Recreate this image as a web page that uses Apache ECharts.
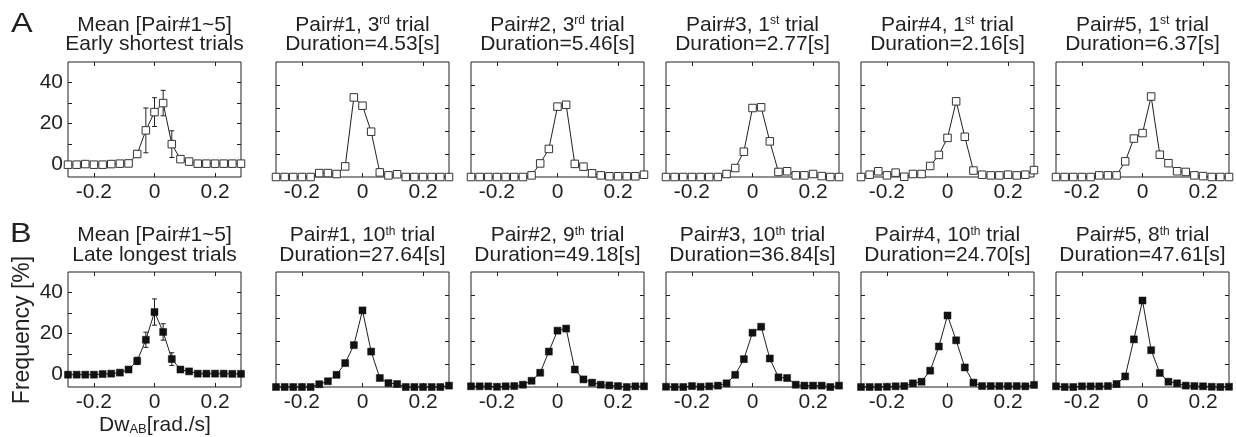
<!DOCTYPE html>
<html><head><meta charset="utf-8">
<script src="https://cdn.jsdelivr.net/npm/echarts@6/dist/echarts.min.js"></script>
<style>html,body{margin:0;padding:0;background:#fff}#c{width:1236px;height:437px}</style>
</head><body><div id="c"></div>
<script>
// ---- data ----
const xBins = [-0.285,-0.2565,-0.228,-0.1995,-0.171,-0.1425,-0.114,-0.0855,-0.057,-0.0285,0,0.0285,0.057,0.0855,0.114,0.1425,0.171,0.1995,0.228,0.2565,0.285];
const xTickValues = [-0.2, 0, 0.2];
const meanYLabels = [0, 20, 40];

const titlesEarly = [
  'Mean [Pair#1~5]\nEarly shortest trials',
  'Pair#1, 3{s|rd} trial\nDuration=4.53[s]',
  'Pair#2, 3{s|rd} trial\nDuration=5.46[s]',
  'Pair#3, 1{s|st} trial\nDuration=2.77[s]',
  'Pair#4, 1{s|st} trial\nDuration=2.16[s]',
  'Pair#5, 1{s|st} trial\nDuration=6.37[s]'
];
const titlesLate = [
  'Mean [Pair#1~5]\nLate longest trials',
  'Pair#1, 10{s|th} trial\nDuration=27.64[s]',
  'Pair#2, 9{s|th} trial\nDuration=49.18[s]',
  'Pair#3, 10{s|th} trial\nDuration=36.84[s]',
  'Pair#4, 10{s|th} trial\nDuration=24.70[s]',
  'Pair#5, 8{s|th} trial\nDuration=47.61[s]'
];

// Early shortest trials (open squares)
const meanEarly   = [0,0,0.3,0,0,0.3,0.5,0.6,5.2,16.7,25.6,30.0,10.0,2.7,1.5,0.5,0.5,0.5,0.5,0.5,0.5];
const meanEarlyErr= [0,0,0,0,0,0,0,0.3,1.5,10.9,7.0,6.2,6.5,1.0,0.5,0,0,0,0,0,0];
const pair1Early  = [0,0,0,0,0,1.7,1.7,1.3,4.6,34.6,31.0,19.7,2.0,0.7,1.2,0,0,0,0,0,0];
const pair2Early  = [0,0,0,0,0,0,0,0.7,5.9,12.2,30.6,31.4,5.7,4.5,1.6,0.7,0.3,0.3,0.3,0.3,1.0];
const pair3Early  = [0,0,0,0,0,0,0,1.3,3.9,11.0,30.0,30.3,15.5,2.2,2.5,0.7,0.7,1.3,0.4,0,0];
const pair4Early  = [0,1.0,2.5,0.7,1.9,0.1,1.3,1.3,4.8,9.6,17.0,32.9,17.5,2.8,1.0,0.7,0.7,1.0,0.7,1.0,3.0];
const pair5Early  = [0,0,0,0,0,0.7,0.7,0.7,6.8,16.7,19.1,35.0,9.7,6.0,2.5,2.2,0.7,0.4,0,0,0];

// Late longest trials (filled squares)
const meanLate    = [0,0,0,0,0.3,0.5,1.0,2.5,6.7,17.0,30.5,20.8,7.6,2.5,1.6,0.5,0.5,0.5,0.5,0.4,0.4];
const meanLateErr = [0,0,0,0,0,0,0,0.6,1.8,3.7,6.4,4.0,3.1,0.5,0.3,0,0,0,0,0,0];
const pair1Late   = [0,0,0,0,0,1.2,2.5,5.3,10.4,18.2,33.3,15.4,3.9,1.7,1.3,0,0,0,0,0,0.6];
const pair2Late   = [0.3,0.3,0.3,0.1,0.3,0.4,1.0,2.7,6.2,15.4,24.5,25.4,7.6,3.3,1.9,1.0,0.7,0.4,0,0.3,0.3];
const pair3Late   = [0.1,0,0,0.4,0.1,0.3,0.6,1.6,5.3,12.1,23.6,26.2,12.4,4.2,3.9,1.0,0.6,0.6,0.6,0,0.6];
const pair4Late   = [0,0,0,0.1,0.3,0.4,1.6,2.3,7.1,17.6,31.1,20.3,8.5,1.9,0.4,0.4,0.4,0.4,0.4,0.3,0.9];
const pair5Late   = [0.3,0,0,0.3,0.3,0.3,0.4,1.3,4.6,20.7,37.6,16.0,6.1,2.3,1.6,0.6,0.4,0.3,0.1,0,0.1];

// ---- layout / style ----
const FONT = '"Liberation Sans", Arial, Helvetica, sans-serif';
const INK = '#231f20';
const colLeft = [68, 276, 471, 666, 861, 1056];
const W = 173, H = 115;
const rowTop = [62, 272];
const titleTop = [15, 225.5];

const panelVals = [meanEarly, pair1Early, pair2Early, pair3Early, pair4Early, pair5Early,
                   meanLate, pair1Late, pair2Late, pair3Late, pair4Late, pair5Late];
const panelTitles = titlesEarly.concat(titlesLate);
const errs = {0: meanEarlyErr, 6: meanLateErr};

function fmtX(v){ return v === 0 ? '0' : (v < 0 ? '-' : '') + Math.abs(v).toFixed(1); }

function errRender(params, api){
  const x = api.value(0), y = api.value(1), e = api.value(2);
  if (!e) return;
  const t = api.coord([x, y + e]);
  const b = api.coord([x, y - e]);
  const hw = 2.5;
  const st = {stroke: INK, lineWidth: 1};
  return {type:'group', children:[
    {type:'line', shape:{x1:t[0], y1:t[1], x2:b[0], y2:b[1]}, style:st},
    {type:'line', shape:{x1:t[0]-hw, y1:t[1], x2:t[0]+hw, y2:t[1]}, style:st},
    {type:'line', shape:{x1:b[0]-hw, y1:b[1], x2:b[0]+hw, y2:b[1]}, style:st}
  ]};
}

const grids = [], xAxes = [], yAxes = [], series = [], titles = [];
for (let i = 0; i < 12; i++){
  const row = Math.floor(i/6), col = i % 6, isMean = col === 0;
  grids.push({left: colLeft[col], top: rowTop[row], width: W, height: H,
    show: true, borderColor: INK, borderWidth: 1, backgroundColor: 'transparent'});
  const tickStyle = {show:true, inside:true, length:4, lineStyle:{color:INK, width:1}};
  const xb = {type:'value', gridIndex:i, min:-0.285, max:0.285,
    axisLine:{show:false, onZero:false}, splitLine:{show:false}};
  xAxes.push(Object.assign({}, xb, {position:'bottom',
    axisTick: Object.assign({customValues: xTickValues}, tickStyle),
    axisLabel:{show:true, customValues: xTickValues, formatter: fmtX,
      fontSize:21, fontFamily:FONT, color:INK, margin:5}}));
  xAxes.push(Object.assign({}, xb, {position:'top',
    axisTick: Object.assign({customValues: xTickValues}, tickStyle),
    axisLabel:{show:false}}));
  const yTicks = isMean ? [0,10,20,30,40] : [10,20,30,40];
  const yb = {type:'value', gridIndex:i, min: isMean ? -6 : 0, max:50,
    axisLine:{show:false, onZero:false}, splitLine:{show:false}};
  yAxes.push(Object.assign({}, yb, {position:'left',
    axisTick: Object.assign({customValues: yTicks}, tickStyle),
    axisLabel: isMean ? {show:true, customValues: meanYLabels, fontSize:21,
      fontFamily:FONT, color:INK, margin:5} : {show:false}}));
  yAxes.push(Object.assign({}, yb, {position:'right',
    axisTick: Object.assign({customValues: yTicks}, tickStyle),
    axisLabel:{show:false}}));

  const vals = panelVals[i];
  if (errs[i]){
    series.push({type:'custom', xAxisIndex:2*i, yAxisIndex:2*i, z:1, clip:false,
      renderItem: errRender, silent:true,
      data: xBins.map((x,k)=>[x, vals[k], errs[i][k]])});
  }
  series.push({type:'line', xAxisIndex:2*i, yAxisIndex:2*i, z:3, clip:false,
    symbol:'rect', symbolSize: row === 0 ? 7.5 : 7, showSymbol:true, silent:true,
    lineStyle:{color:INK, width:1},
    itemStyle: row === 0 ? {color:'#fff', borderColor:'#333', borderWidth:1}
                         : {color:'#111', borderColor:'#111', borderWidth:0.5},
    data: xBins.map((x,k)=>[x, vals[k]])});

  titles.push({text: panelTitles[i], left: colLeft[col] + W/2, top: titleTop[row],
    textAlign:'center', padding:0, itemGap:0,
    textStyle:{fontSize:21, fontWeight:'normal', fontFamily:FONT, color:INK, lineHeight:19.5,
      rich:{s:{fontSize:12, fontFamily:FONT, color:INK, verticalAlign:'top', lineHeight:12}}}});
}

const chart = echarts.init(document.getElementById('c'), null, {renderer:'canvas'});
chart.setOption({
  animation:false,
  backgroundColor:'#fff',
  title: titles,
  grid: grids,
  xAxis: xAxes,
  yAxis: yAxes,
  series: series,
  graphic: [
    {type:'text', x:11, y:11, scaleX:1.2, style:{text:'A', fontSize:27, fontFamily:FONT, fill:INK, align:'left', verticalAlign:'top'}},
    {type:'text', x:10, y:221, scaleX:1.2, style:{text:'B', fontSize:27, fontFamily:FONT, fill:INK, align:'left', verticalAlign:'top'}},
    {type:'text', x:23, y:330, rotation:Math.PI/2, style:{text:'Frequency [%]', fontSize:23, fontFamily:FONT, fill:INK, align:'center', verticalAlign:'middle'}},
    {type:'text', x:155, y:425, style:{text:'Dw{sub|AB}[rad./s]', fontSize:21, fontFamily:FONT, fill:INK, align:'center', verticalAlign:'middle',
      rich:{sub:{fontSize:13, fontFamily:FONT, fill:INK, verticalAlign:'bottom', lineHeight:12, padding:[8,0,0,0]}}}}
  ]
});
</script></body></html>
